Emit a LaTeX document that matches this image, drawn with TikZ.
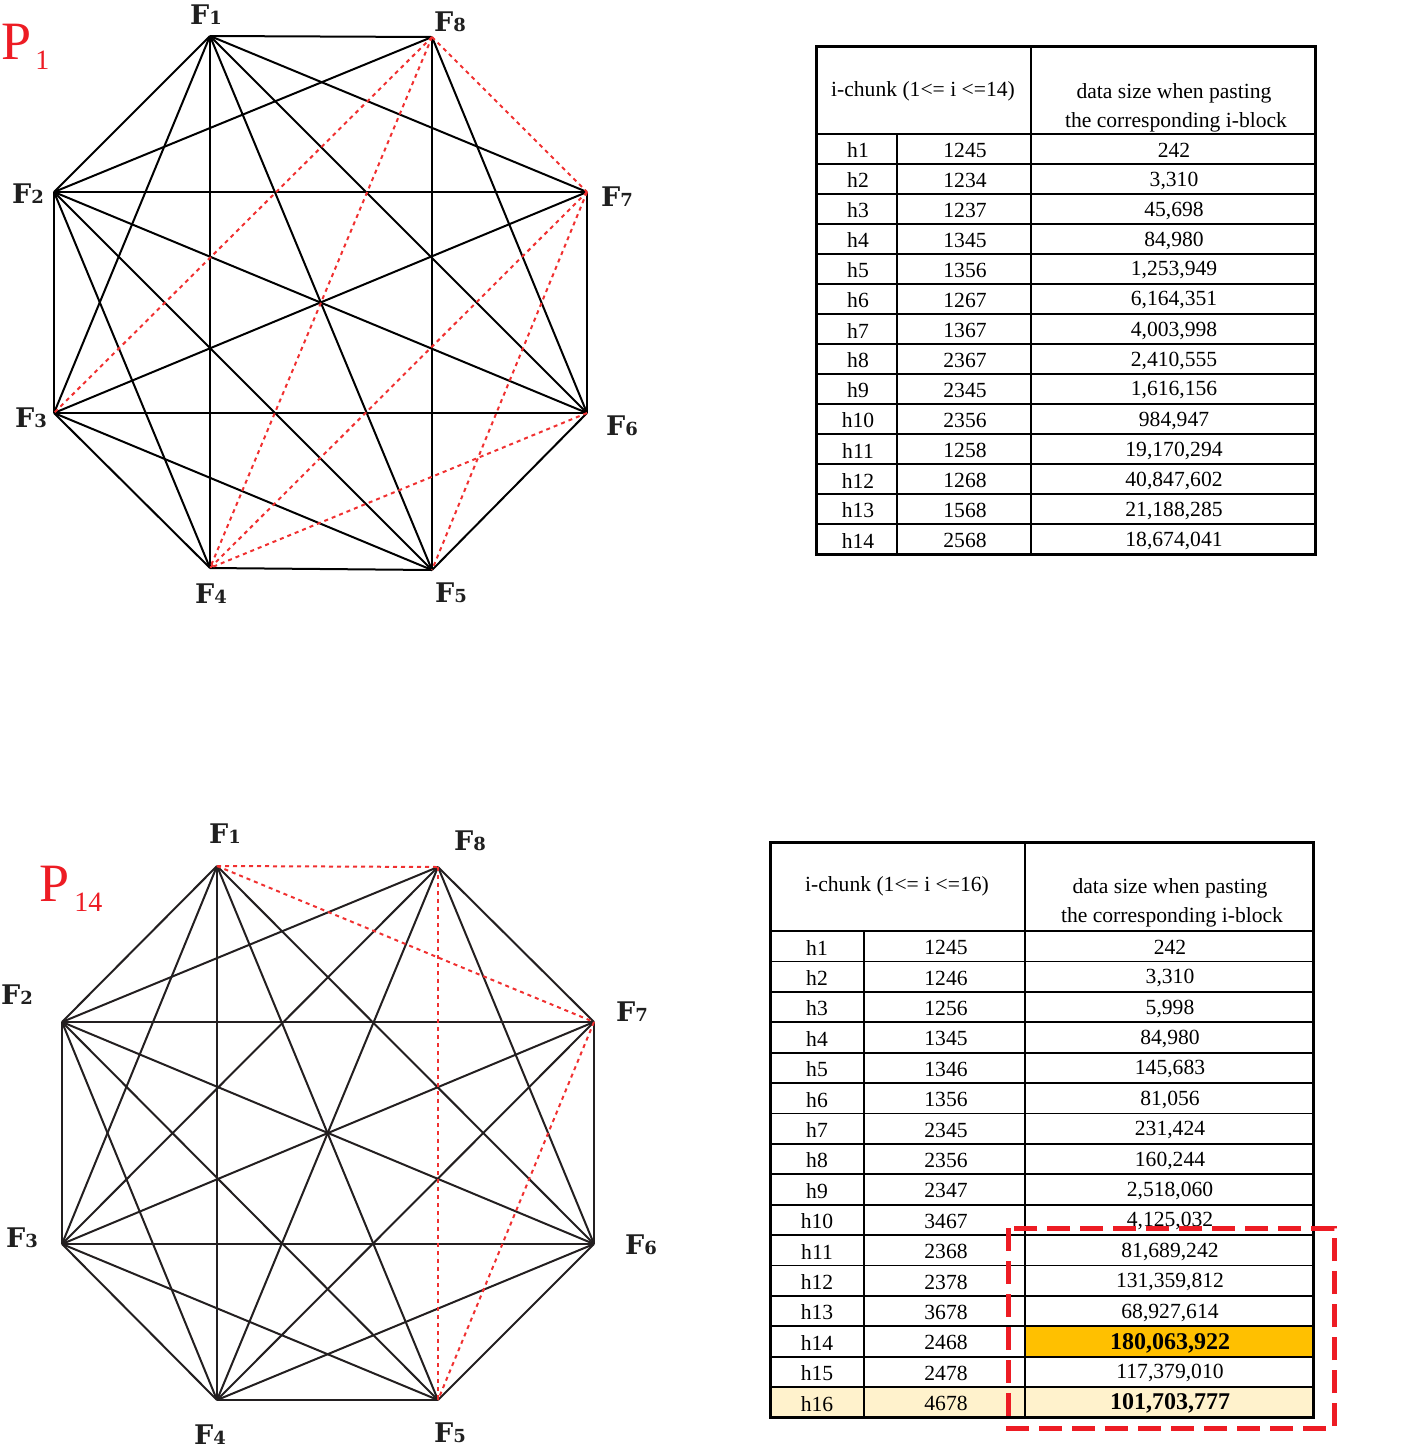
\documentclass[tikz,border=0pt]{standalone}
\usepackage{fontspec}
\setmainfont{Liberation Serif}
\newfontfamily\lblfont{DejaVu Serif}
\definecolor{pred}{HTML}{ED1C24}
\definecolor{dotred}{HTML}{F03030}
\definecolor{hlorange}{HTML}{FFC000}
\definecolor{hlyellow}{HTML}{FFF2CC}
\definecolor{dkline}{HTML}{231F20}
\newcommand\FF[1]{F{\fontsize{9}{9}\selectfont #1}}
\newcommand\bignum[1]{{\fontsize{12}{12}\selectfont\bfseries #1}}
\begin{document}
\begin{tikzpicture}[x=0.5pt,y=-0.5pt,
  bedge/.style={line width=1pt,black},
  dedge/.style={line width=1pt,dkline},
  redge/.style={line width=1pt,dotred,dash pattern=on 2pt off 2pt},
  flab/.style={font=\lblfont\bfseries\fontsize{13.5}{14}\selectfont,inner sep=0pt,text=black!88},
  plab/.style={font=\fontsize{27}{27}\selectfont,text=pred,inner sep=0pt},
  cell/.style={font=\fontsize{10.8}{12}\selectfont,inner sep=0pt},
  outerb/.style={line width=1.5pt,black},
  innerb/.style={line width=0.9pt,black}]
\useasboundingbox (0,0) rectangle (1428,1452);
% ---------- top octagon ----------
\coordinate (T1) at (210,36);
\coordinate (T8) at (432,37);
\coordinate (T7) at (587,192);
\coordinate (T6) at (587,413);
\coordinate (T5) at (432,570);
\coordinate (T4) at (210,568);
\coordinate (T3) at (54,413);
\coordinate (T2) at (54,192);
\foreach \a/\b in {1/2,1/3,1/4,1/5,1/6,1/7,1/8,2/3,2/4,2/5,2/6,2/7,2/8,3/4,3/5,3/6,3/7,4/5,5/6,5/8,6/7,6/8}
  \draw[bedge] (T\a) -- (T\b);
\foreach \a/\b in {8/7,8/3,8/4,7/4,7/5,6/4}
  \draw[redge] (T\a) -- (T\b);
\node[flab] (lT1) at (206,15) {\FF{1}};
\node[flab] (lT8) at (450,22) {\FF{8}};
\node[flab] (lT2) at (28,194) {\FF{2}};
\node[flab] (lT7) at (617,197) {\FF{7}};
\node[flab] (lT3) at (31,418) {\FF{3}};
\node[flab] (lT6) at (622,426) {\FF{6}};
\node[flab] (lT4) at (211,594) {\FF{4}};
\node[flab] (lT5) at (451,593) {\FF{5}};
\node[plab,anchor=base west] (P1) at (1,59) {P\hspace{2pt}\raisebox{-5pt}{\fontsize{14}{14}\selectfont 1}};
% ---------- bottom octagon ----------
\coordinate (B1) at (217,866);
\coordinate (B8) at (438,867);
\coordinate (B7) at (594,1022);
\coordinate (B6) at (594,1244);
\coordinate (B5) at (438,1400);
\coordinate (B4) at (217,1400);
\coordinate (B3) at (62,1244);
\coordinate (B2) at (62,1022);
\foreach \a/\b in {1/2,1/3,1/4,1/5,1/6,2/3,2/4,2/5,2/6,2/7,2/8,3/4,3/5,3/6,3/7,3/8,4/5,4/6,4/7,4/8,5/6,6/7,6/8,7/8}
  \draw[dedge] (B\a) -- (B\b);
\foreach \a/\b in {1/8,1/7,8/5,7/5}
  \draw[redge] (B\a) -- (B\b);
\node[flab] (lB1) at (225,834) {\FF{1}};
\node[flab] (lB8) at (470,841) {\FF{8}};
\node[flab] (lB2) at (17,995) {\FF{2}};
\node[flab] (lB7) at (632,1012) {\FF{7}};
\node[flab] (lB3) at (22,1238) {\FF{3}};
\node[flab] (lB6) at (641,1245) {\FF{6}};
\node[flab] (lB4) at (210,1435) {\FF{4}};
\node[flab] (lB5) at (450,1433) {\FF{5}};
\node[plab,anchor=base west] (P14) at (39,901) {P\hspace{2.5pt}\raisebox{-5pt}{\fontsize{14}{14}\selectfont 14}};
% ---------- top table ----------
\foreach \k in {0,...,13} \draw[innerb] (816,134+30*\k) -- (1315,134+30*\k);
\draw[innerb] (1031,46) -- (1031,554);
\draw[innerb] (897,134) -- (897,554);
\draw[outerb] (816,46) rectangle (1315,554);
\node[cell] (th1) at (923,91) {i-chunk (1<= i <=14)};
\node[cell] (th2) at (1174,93) {data size when pasting};
\node[cell] (th3) at (1176,122) {the corresponding i-block};
\foreach \i/\c/\v in {1/1245/242,2/1234/{3,310},3/1237/{45,698},4/1345/{84,980},5/1356/{1,253,949},6/1267/{6,164,351},7/1367/{4,003,998},8/2367/{2,410,555},9/2345/{1,616,156},10/2356/{984,947},11/1258/{19,170,294},12/1268/{40,847,602},13/1568/{21,188,285},14/2568/{18,674,041}}{
  \node[cell] (ta\i) at (858,134+30*\i-13.5) {h\i};
  \node[cell] (tb\i) at (965,134+30*\i-13.5) {\c};
  \node[cell] (tc\i) at (1174,134+30*\i-13.5) {\v};
}
% ---------- bottom table ----------
\fill[hlorange] (1025,1326.2) rectangle (1313,1356.6);
\fill[hlyellow] (770,1387) rectangle (1313,1417.4);
\foreach \k in {0,...,15} \draw[innerb] (770,931+30.4*\k) -- (1313,931+30.4*\k);
\draw[innerb] (1025,842) -- (1025,1417.4);
\draw[innerb] (864,931) -- (864,1417.4);
\draw[outerb] (770,842) rectangle (1313,1417.4);
\node[cell] (bh1) at (897,886) {i-chunk (1<= i <=16)};
\node[cell] (bh2) at (1170,888) {data size when pasting};
\node[cell] (bh3) at (1172,917) {the corresponding i-block};
\foreach \i/\c/\v in {1/1245/242,2/1246/{3,310},3/1256/{5,998},4/1345/{84,980},5/1346/{145,683},6/1356/{81,056},7/2345/{231,424},8/2356/{160,244},9/2347/{2,518,060},10/3467/{4,125,032},11/2368/{81,689,242},12/2378/{131,359,812},13/3678/{68,927,614},14/2468/{\bignum{180,063,922}},15/2478/{117,379,010},16/4678/{\bignum{101,703,777}}}{
  \node[cell] (ba\i) at (817,931+30.4*\i-13.7) {h\i};
  \node[cell] (bb\i) at (946,931+30.4*\i-13.7) {\c};
  \node[cell] (bc\i) at (1170,931+30.4*\i-13.7) {\v};
}
% highlight dashed box
\draw[pred,line width=2.5pt,dash pattern=on 11.5pt off 5pt] (1008,1228) rectangle (1334,1428);
\end{tikzpicture}
\end{document}
